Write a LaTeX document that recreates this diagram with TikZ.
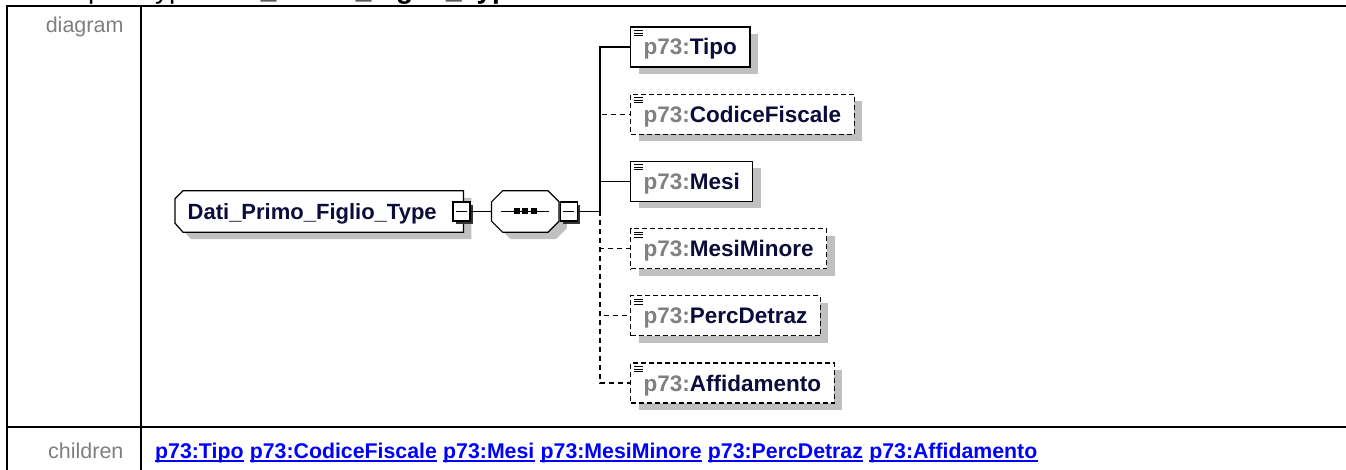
\documentclass[tikz,border=0pt]{standalone}
\usepackage{fontspec}
\setmainfont{Liberation Sans}
\usepackage{xcolor}
\definecolor{cLine}{HTML}{000000}
\definecolor{cShadow}{HTML}{C0C0C0}
\definecolor{cPrefix}{HTML}{808080}
\definecolor{cName}{HTML}{0C0C3A}
\definecolor{cLabel}{HTML}{7F7F7F}
\definecolor{cLink}{HTML}{0000FF}
\usepackage{tikz}
\usetikzlibrary{positioning,shadows,backgrounds}
\newcommand{\pfx}{\textcolor{cPrefix}{p73:}}
\tikzset{
  box-shadow/.style={drop shadow={fill=cShadow,opacity=1,
    shadow xshift=8pt,shadow yshift=-7pt}},
  box-line/.style={draw=cLine,line width=1.2pt,fill=white,box-shadow},
  node-elem/.style={box-line,anchor=west,
    minimum height=40pt,inner xsep=13pt,inner ysep=0pt,
    text height=16pt,text depth=0pt,text=cName,
    font=\fontsize{22.5}{26}\selectfont\bfseries,
    path picture={
      \foreach \dy in {3.5,6,8.5}
        \draw[solid,line width=0.9pt,cLine]
          ([xshift=3.5pt,yshift=-\dy pt]path picture bounding box.north west)
          -- ++(9pt,0pt);
    }},
  node-opt/.style={node-elem,dash pattern=on 5pt off 3pt},
  node-root/.style={anchor=west,minimum width=288pt,minimum height=41pt,
    inner xsep=12.5pt,inner ysep=0pt,text width=263pt,align=left,
    text height=16pt,text depth=0pt,text=cName,
    font=\fontsize{22}{26}\selectfont\bfseries},
  node-seq/.style={anchor=west,minimum width=67pt,minimum height=41pt,
    inner sep=0pt},
  node-minus/.style={draw=cLine,line width=1.3pt,fill=white,
    minimum width=17pt,minimum height=19pt,inner sep=0pt,
    drop shadow={fill=black!80,opacity=1,shadow xshift=3pt,shadow yshift=-3pt},
    path picture={
      \draw[line width=1.2pt,cLine]
        ([xshift=3pt]path picture bounding box.west)
        -- ([xshift=-3pt]path picture bounding box.east);
    }},
  node-label/.style={anchor=base east,text=cLabel,
    font=\fontsize{21.5}{25}\selectfont},
  node-link/.style={inner sep=0pt,text=cLink,
    font=\fontsize{21.3}{25}\selectfont\bfseries,
    append after command={
      ([yshift=-3pt]\tikzlastnode.base west)
        edge[draw=cLink,line width=1.6pt] ([yshift=-3pt]\tikzlastnode.base east)}},
  conn/.style={line width=1.3pt,draw=cLine},
  conn-opt/.style={conn,dash pattern=on 5pt off 4pt},
  tbl-line/.style={line width=2.5pt,draw=black},
}

\begin{document}
\begin{tikzpicture}[x=1pt,y=-1pt,node distance=26pt]
  \useasboundingbox (0,0) rectangle (1346,470);
  \clip (0,0) rectangle (1346,470);
  % heading, cut off by the top edge
  \node[anchor=base west,inner sep=0pt,font=\fontsize{28}{32}\selectfont]
    (title) at (35,-1) {complexType \textbf{Dati\_Primo\_Figlio\_Type}};
  % table frame
  \draw[tbl-line] (7,470) -- (7,6) -- (1346,6);
  \draw[tbl-line] (141,6) -- (141,470);
  \draw[tbl-line] (7,427) -- (1346,427);
  \node[node-label] (lbl-diagram) at (127,33) {diagram};
  \node[node-label] (lbl-children) at (127,458) {children};

  % complex type and sequence
  \node[node-root] (root) at (175,211.5) {Dati\_Primo\_Figlio\_Type};
  \node[node-minus] (root-minus) at ([xshift=-2pt]root.east) {};
  \node[node-seq,right=21pt of root-minus] (seq) {};
  \begin{scope}[on background layer]
    \draw[box-line] ([xshift=8pt]root.north west) -- (root.north east)
      -- (root.south east) -- ([xshift=8pt]root.south west)
      -- ([yshift=9pt]root.south west) -- ([yshift=-8pt]root.north west) -- cycle;
    \draw[box-line] ([xshift=11pt]seq.north west) -- ([xshift=-11pt]seq.north east)
      -- ([yshift=-11pt]seq.north east) -- ([yshift=11pt]seq.south east)
      -- ([xshift=-11pt]seq.south east) -- ([xshift=11pt]seq.south west)
      -- ([yshift=11pt]seq.south west) -- ([yshift=-11pt]seq.north west) -- cycle;
  \end{scope}
  \draw[line width=1.3pt] ([xshift=-24pt]seq.center) -- ([xshift=24pt]seq.center);
  \foreach \dx in {-8.5,0,8.5}
    \fill[cLine] ([xshift=\dx pt]seq.center) +(-3pt,-3pt) rectangle +(3pt,3pt);
  \node[node-minus] (seq-minus) at ([xshift=10pt]seq.east) {};
  \coordinate (jn) at (600,211.5);

  % children
  \node[node-elem] (tipo) at (630,47) {\pfx Tipo};
  \node[node-opt,below=26pt of tipo.south west,anchor=north west] (codice) {\pfx CodiceFiscale};
  \node[node-elem,below=26pt of codice.south west,anchor=north west] (mesi) {\pfx Mesi};
  \node[node-opt,below=26pt of mesi.south west,anchor=north west] (minore) {\pfx MesiMinore};
  \node[node-opt,below=26pt of minore.south west,anchor=north west] (detraz) {\pfx PercDetraz};
  \node[node-opt,below=26pt of detraz.south west,anchor=north west] (affido) {\pfx Affidamento};

  \draw[conn] (root-minus) -- (seq);
  \draw[conn] (seq-minus) -- (jn);
  \draw[conn-opt] (jn) |- (codice.west);
  \draw[conn-opt] (jn) |- (minore.west);
  \draw[conn-opt] (jn) |- (detraz.west);
  \draw[conn-opt] (jn) |- (affido.west);
  \draw[conn] (jn) |- (tipo.west);
  \draw[conn] (jn) |- (mesi.west);

  % child links
  \node[node-link,anchor=base west] (lk-tipo) at (155,458) {p73:Tipo};
  \node[node-link,base right=5.9pt of lk-tipo] (lk-codice) {p73:CodiceFiscale};
  \node[node-link,base right=5.9pt of lk-codice] (lk-mesi) {p73:Mesi};
  \node[node-link,base right=5.9pt of lk-mesi] (lk-minore) {p73:MesiMinore};
  \node[node-link,base right=5.9pt of lk-minore] (lk-detraz) {p73:PercDetraz};
  \node[node-link,base right=5.9pt of lk-detraz] (lk-affido) {p73:Affidamento};
\end{tikzpicture}
\end{document}
